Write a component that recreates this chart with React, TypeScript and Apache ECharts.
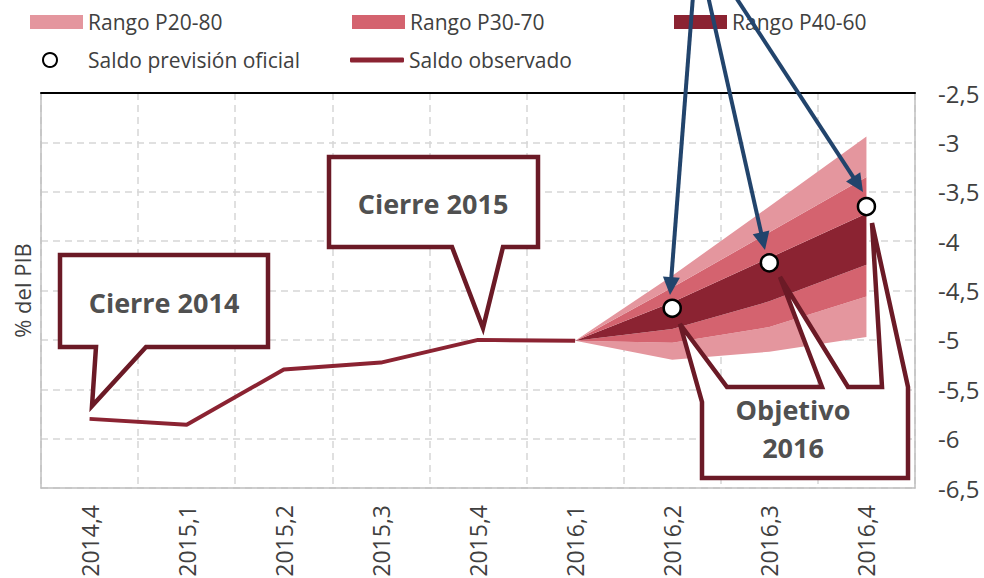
import React, { useEffect, useRef } from "react";
import * as echarts from "echarts";

const categories = ["2014,4", "2015,1", "2015,2", "2015,3", "2015,4", "2016,1", "2016,2", "2016,3", "2016,4"];
const observed = [-5.8, -5.86, -5.3, -5.23, -5.0, -5.01, null, null, null];
const official = [null, null, null, null, null, null, -4.68, -4.22, -3.65];
const p20 = [null, null, null, null, null, -5.01, -5.2, -5.12, -4.97];
const p30 = [null, null, null, null, null, -5.01, -5.03, -4.87, -4.56];
const p40 = [null, null, null, null, null, -5.01, -4.89, -4.61, -4.24];
const p60 = [null, null, null, null, null, -5.01, -4.62, -4.17, -3.72];
const p70 = [null, null, null, null, null, -5.01, -4.47, -3.91, -3.35];
const p80 = [null, null, null, null, null, -5.01, -4.35, -3.65, -2.94];

const LIGHT = "#E4969E";
const MEDIUM = "#D4636F";
const DARK = "#8B2332";
const BORDER = "#6B1A26";
const BLUE = "#22446C";
const TEXT = "#404040";
const FONT = "'Open Sans', sans-serif";

const diff = (a: (number | null)[], b: (number | null)[]) =>
  a.map((v, i) => (v == null || b[i] == null ? null : +((v as number) - (b[i] as number)).toFixed(3)));

function arrow(x0: number, y0: number, x1: number, y1: number) {
  const dx = x1 - x0, dy = y1 - y0;
  const L = Math.hypot(dx, dy);
  const ux = dx / L, uy = dy / L;
  const hl = 18, hw = 8.5;
  const bx = x1 - ux * hl, by = y1 - uy * hl;
  return [
    { type: "line", z: 200, shape: { x1: x0, y1: y0, x2: bx + ux * 2, y2: by + uy * 2 }, style: { stroke: BLUE, lineWidth: 4 } },
    {
      type: "polygon", z: 200,
      shape: { points: [[x1, y1], [bx - uy * hw, by + ux * hw], [bx + uy * hw, by - ux * hw]] },
      style: { fill: BLUE },
    },
  ];
}

function callout(points: number[][]) {
  return {
    type: "polygon", z: 150,
    shape: { points },
    style: { fill: "#ffffff", stroke: BORDER, lineWidth: 4.5, lineJoin: "miter" },
  };
}

function label(text: string, x: number, y: number) {
  return {
    type: "text", z: 160, x, y,
    style: { text, fill: "#505050", font: `bold 27px ${FONT}`, align: "center", verticalAlign: "middle" },
  };
}

export default function App() {
  const ref = useRef<HTMLDivElement>(null);
  useEffect(() => {
    document.body.style.margin = "0";
    const chart = echarts.init(ref.current!, null, { renderer: "svg" });
    const bandSeries = (name: string, data: (number | null)[], color: string | null) => ({
      name,
      type: "line",
      stack: "fan",
      stackStrategy: "all",
      data,
      symbol: "none",
      lineStyle: { width: 0, opacity: 0 },
      itemStyle: { color: color || "transparent" },
      areaStyle: color ? { color, opacity: 1 } : undefined,
      z: 2,
      silent: true,
    });
    const legendText = { fontSize: 21, color: TEXT, fontFamily: FONT, lineHeight: 24 };
    const dashed = { color: "#D6D6D6", width: 1.5, type: [7, 5] };
    chart.setOption({
      animation: false,
      backgroundColor: "#ffffff",
      grid: { left: 41, right: 69, top: 93, bottom: 90, outerBoundsMode: "none", containLabel: false },
      legend: [
        { data: ["Rango P20-80"], icon: "rect", left: 25, top: 5, itemWidth: 53, itemHeight: 14, textStyle: legendText, selectedMode: false },
        { data: ["Rango P30-70"], icon: "rect", left: 347, top: 5, itemWidth: 53, itemHeight: 14, textStyle: legendText, selectedMode: false },
        { data: ["Rango P40-60"], icon: "rect", left: 669, top: 5, itemWidth: 53, itemHeight: 14, textStyle: legendText, selectedMode: false },
        {
          data: ["Saldo previsión oficial"], left: 37, top: 43, itemWidth: 14, itemHeight: 14,
          textStyle: { ...legendText, padding: [0, 0, 0, 26] }, selectedMode: false,
        },
        {
          data: ["Saldo observado"], icon: "roundRect", left: 345, top: 43, itemWidth: 54, itemHeight: 5,
          textStyle: legendText, selectedMode: false,
        },
      ],
      xAxis: [
        {
          type: "category",
          data: categories,
          position: "bottom",
          boundaryGap: true,
          axisLine: { show: true, lineStyle: { color: "#BFBFBF", width: 1.5 } },
          axisTick: { show: false },
          splitLine: { show: true, lineStyle: dashed },
          axisLabel: { rotate: 90, fontSize: 23, color: TEXT, fontFamily: FONT, margin: 17, interval: 0 },
        },
        {
          type: "category",
          data: categories,
          position: "top",
          axisLine: { show: true, lineStyle: { color: "#000000", width: 2 } },
          axisTick: { show: false },
          axisLabel: { show: false },
          splitLine: { show: false },
        },
      ],
      yAxis: [
        {
          type: "value",
          position: "right",
          min: -6.5,
          max: -2.5,
          interval: 0.5,
          axisLine: { show: true, lineStyle: { color: "#BFBFBF", width: 1.5 } },
          axisTick: { show: false },
          splitLine: { show: true, lineStyle: dashed },
          axisLabel: {
            fontSize: 24, color: TEXT, fontFamily: FONT, margin: 23,
            formatter: (v: number) => String(+v.toFixed(2)).replace(".", ","),
          },
        },
        {
          type: "value",
          position: "left",
          min: -6.5,
          max: -2.5,
          interval: 0.5,
          name: "% del PIB",
          nameLocation: "middle",
          nameGap: 8,
          nameTextStyle: { fontSize: 22, color: TEXT, fontFamily: FONT },
          axisLine: { show: true, lineStyle: { color: "#BFBFBF", width: 1.5 } },
          axisTick: { show: false },
          axisLabel: { show: false },
          splitLine: { show: false },
        },
      ],
      series: [
        bandSeries("base", p20, null),
        bandSeries("Rango P20-80", diff(p30, p20), LIGHT),
        bandSeries("Rango P30-70", diff(p40, p30), MEDIUM),
        bandSeries("Rango P40-60", diff(p60, p40), DARK),
        bandSeries("Rango P30-70", diff(p70, p60), MEDIUM),
        bandSeries("Rango P20-80", diff(p80, p70), LIGHT),
        {
          name: "Saldo observado",
          type: "line",
          data: observed,
          symbol: "none",
          lineStyle: { color: DARK, width: 4 },
          itemStyle: { color: DARK },
          z: 5,
        },
        {
          name: "Saldo previsión oficial",
          type: "scatter",
          data: official,
          symbol: "circle",
          symbolSize: 17,
          itemStyle: { color: "#ffffff", borderColor: "#000000", borderWidth: 2.5, opacity: 1 },
          z: 300,
        },
      ],
      graphic: [
        callout([[60, 255], [268, 255], [268, 347], [146, 347], [92, 406], [96, 347], [60, 347]]),
        label("Cierre 2014", 164, 302),
        callout([[329, 157], [538, 157], [538, 247], [503, 247], [483, 328], [452, 247], [329, 247]]),
        label("Cierre 2015", 433, 203),
        callout([
          [680, 324], [702, 402], [702, 478], [908, 478], [908, 387], [872, 223], [882, 387],
          [848, 387], [780, 277], [822, 387], [727, 387],
        ]),
        label("Objetivo", 793, 409),
        label("2016", 793, 447),
        ...arrow(693, -4, 670, 295),
        ...arrow(708, -4, 765, 250),
        ...arrow(735, -4, 863, 192),
      ],
    });
    return () => chart.dispose();
  }, []);
  return <div ref={ref} style={{ width: 984, height: 578 }} />;
}
